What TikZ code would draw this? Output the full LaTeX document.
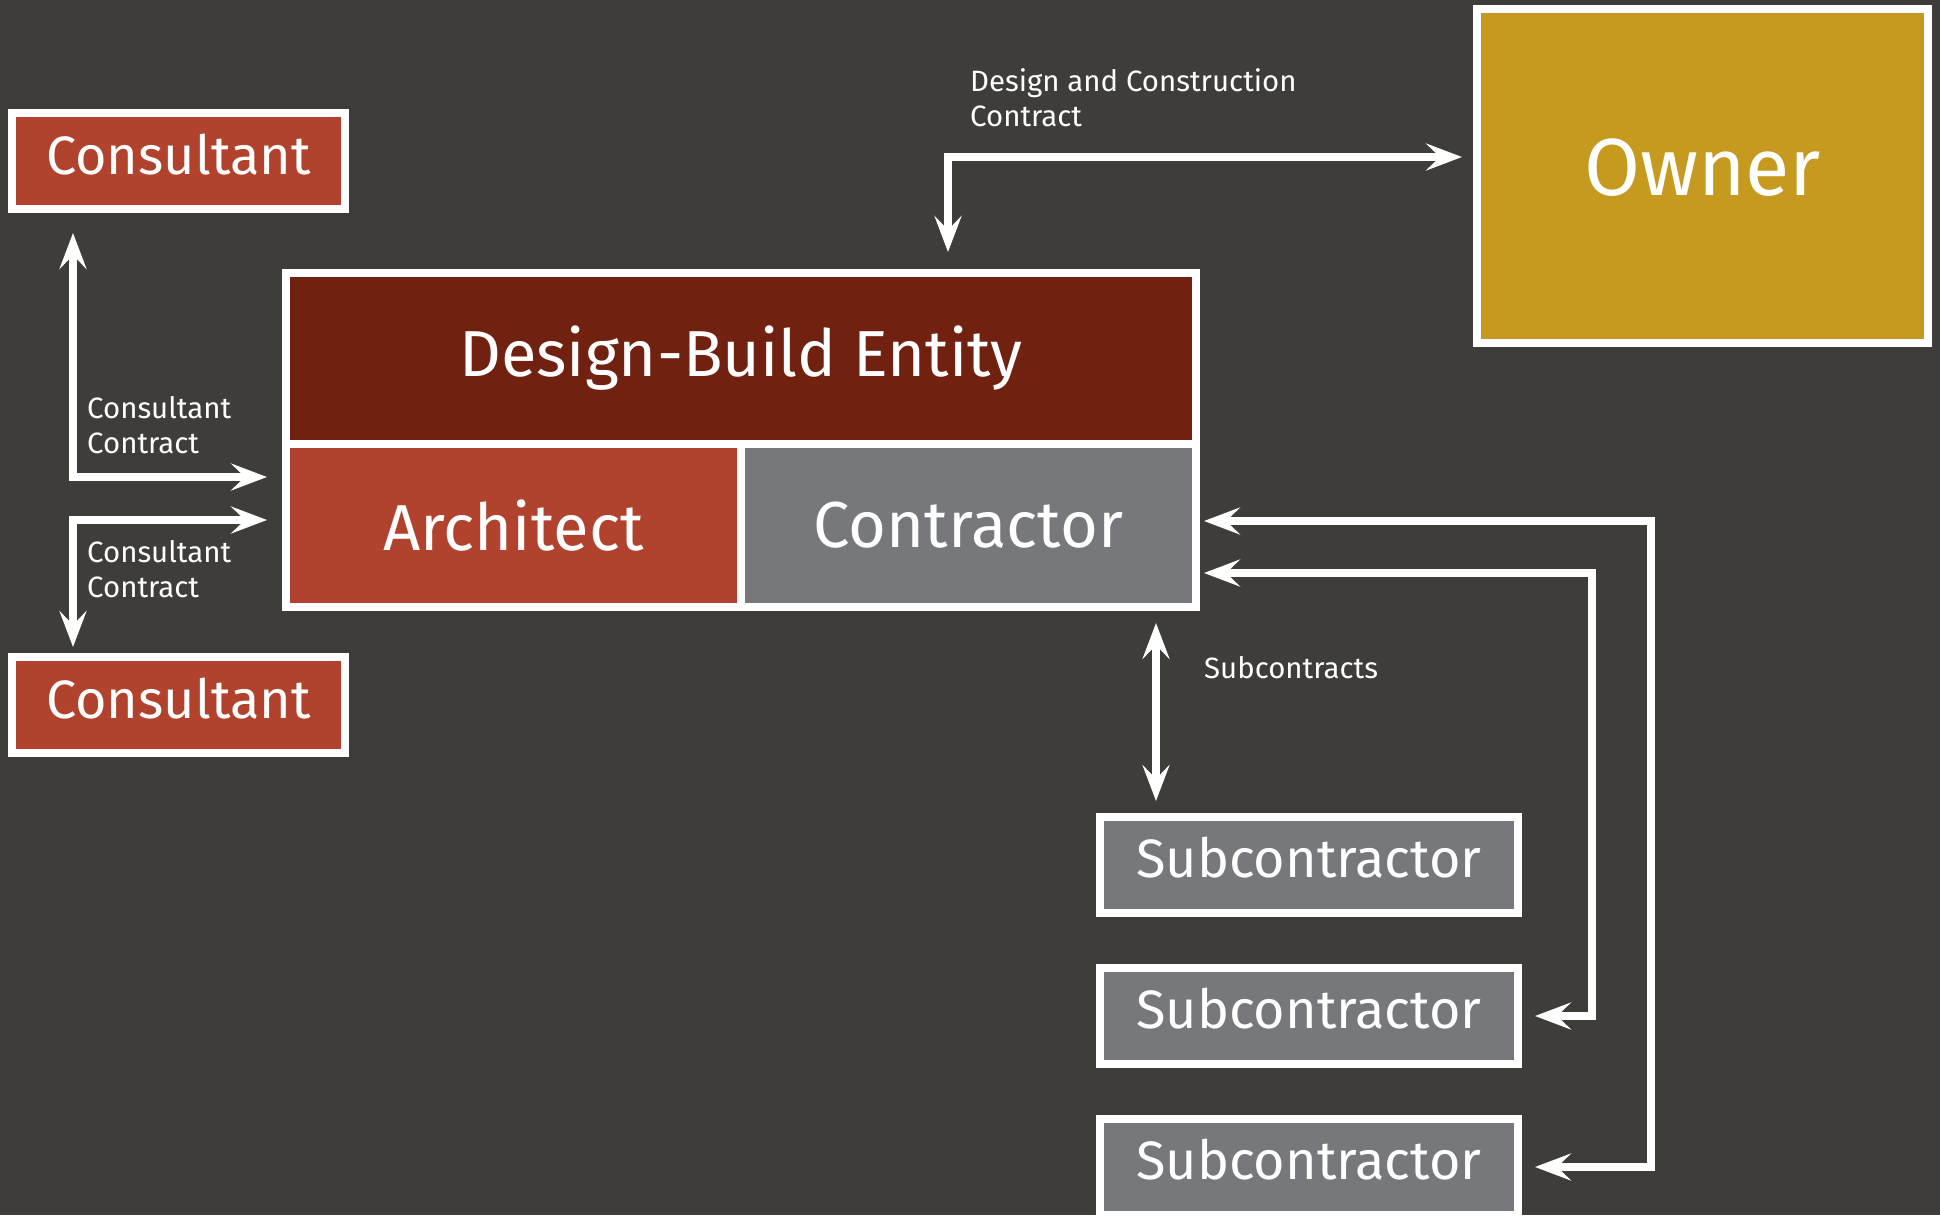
\documentclass[tikz,border=0pt]{standalone}
\usepackage{fontspec}
\setmainfont{Fira Sans}
\usetikzlibrary{positioning,arrows.meta}
\definecolor{bgdark}{HTML}{3E3D39}
\definecolor{consred}{HTML}{B1432E}
\definecolor{entityred}{HTML}{71210F}
\definecolor{contrgray}{HTML}{77787B}
\definecolor{ownergold}{HTML}{C69A1F}

\begin{document}
\begin{tikzpicture}[x=1pt, y=-1pt,
          arrowstyle/.style={<->, white, line width=8pt, >={Stealth[length=36pt, width=27pt, inset=14pt]}}]
          % Box styles
          \tikzstyle{boxnode} = [draw=white, line width=8pt, rectangle, text centered, text=white, outer sep=0pt, inner sep=0pt]
          \tikzstyle{smallbox} = [boxnode, minimum height=96pt, font=\fontsize{54}{65}\selectfont]
          \tikzstyle{bigtext} = [font=\fontsize{65}{78}\selectfont]
          \tikzstyle{labelnode} = [text=white, inner sep=0pt, align=left, font=\fontsize{29.4}{35}\selectfont]

          % Background and page size
          \fill[bgdark] (0,0) rectangle (1940,1215);
          \useasboundingbox (0,0) rectangle (1940,1215);

          % Design-build entity with architect and contractor below
          \node (entity) [boxnode, bigtext, fill=entityred, minimum width=910pt, minimum height=171pt] at (741,358.5) {Design-Build Entity};
          \node (arch)   [boxnode, bigtext, fill=consred, anchor=north west, minimum width=455pt, minimum height=163pt] at (entity.south west) {Architect};
          \node (contr)  [boxnode, bigtext, fill=contrgray, anchor=north east, minimum width=455pt, minimum height=163pt] at (entity.south east) {Contractor};

          % Owner
          \node (owner) [boxnode, fill=ownergold, minimum width=451pt, minimum height=334pt, text depth=18pt, font=\fontsize{81}{97}\selectfont] at (1702.5,176) {Owner};

          % Consultants on the left
          \node (consA) [smallbox, fill=consred, minimum width=333pt, text depth=14pt] at (178.5,161) {Consultant};
          \node (consB) [smallbox, fill=consred, minimum width=333pt, text depth=14pt] at (178.5,705) {Consultant};

          % Subcontractors stacked downwards
          \node (subA) [smallbox, fill=contrgray, minimum width=418pt, text depth=15pt] at (1309,865) {Subcontractor};
          \node (subB) [smallbox, fill=contrgray, minimum width=418pt, text depth=15pt, below=55pt of subA] {Subcontractor};
          \node (subC) [smallbox, fill=contrgray, minimum width=418pt, text depth=15pt, below=55pt of subB] {Subcontractor};

          % Bend points of the connectors
          \coordinate (ownerbend) at (948,157);
          \coordinate (consAbend) at (73,477);
          \coordinate (consBbend) at (73,520);
          \coordinate (subsx) at (1156,712);
          \coordinate (innerbend) at (1592,573);
          \coordinate (outerbend) at (1651,521);

          % Contracts
          \draw[arrowstyle, shorten <=21pt, shorten >=15pt] (entity.north -| ownerbend) -- (ownerbend) -- (ownerbend -| owner.west);
          \draw[arrowstyle, shorten <=24pt, shorten >=19pt] (consA.south -| consAbend) -- (consAbend) -- (consAbend -| arch.west);
          \draw[arrowstyle, shorten <=19pt, shorten >=10pt] (consBbend -| arch.west) -- (consBbend) -- (consBbend |- consB.north);
          \draw[arrowstyle, shorten <=16pt, shorten >=16pt] (contr.south -| subsx) -- (subA.north -| subsx);
          \draw[arrowstyle, shorten <=8pt, shorten >=17pt] (innerbend -| contr.east) -- (innerbend) |- (subB.east);
          \draw[arrowstyle, shorten <=8pt, shorten >=17pt] (outerbend -| contr.east) -- (outerbend) |- (subC.east);

          % Labels (base is the last line)
          \node (dcclabel)   [labelnode, anchor=base west] at (970,126) {Design and Construction\\Contract};
          \node (consAlabel) [labelnode, anchor=base west] at (87,453) {Consultant\\Contract};
          \node (consBlabel) [labelnode, anchor=base west] at (87,597) {Consultant\\Contract};
          \node (subslabel)  [labelnode, anchor=base west] at (1204,678) {Subcontracts};

\end{tikzpicture}
\end{document}
